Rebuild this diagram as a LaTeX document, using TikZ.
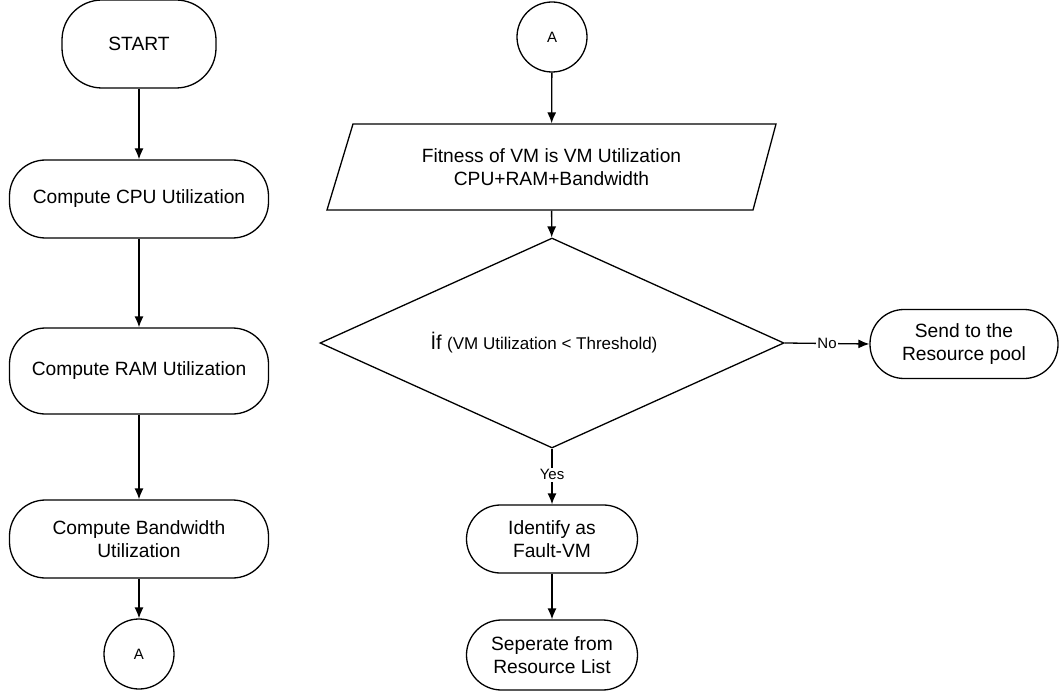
\documentclass[tikz,border=0pt]{standalone}
\usepackage{fontspec}
\setmainfont{Liberation Sans}
\usetikzlibrary{arrows.meta,shapes.geometric,calc}

\tikzset{
  base/.style={draw=black, line width=1.3pt, inner sep=0pt, align=center,
    font=\fontsize{19.2}{23.5}\selectfont},
  terminal/.style={base, rectangle, rounded corners=36pt},
  connector/.style={base, circle, minimum size=70pt, font=\fontsize{15}{18}\selectfont},
  decision/.style={base, diamond, aspect=2.2, minimum width=464pt, minimum height=210pt},
  flow/.style={line width=1.3pt, -{Latex[length=11pt,width=9pt]}},
  edgelabel/.style={fill=white, inner sep=1.5pt, font=\fontsize{15}{17}\selectfont}
}

\begin{document}
\begin{tikzpicture}[x=1pt,y=-1pt]
\useasboundingbox (0,0) rectangle (1060,695);

% left column: measurements
\node[terminal, minimum width=154pt, minimum height=88pt, rounded corners=40pt] (start) at (139,44) {START};
\node[terminal, minimum width=259pt, minimum height=78pt] (cpu) at (139,199) {Compute CPU Utilization};
\node[terminal, minimum width=259pt, minimum height=86pt] (ram) at (139,371) {Compute RAM Utilization};
\node[terminal, minimum width=259pt, minimum height=78pt] (bw) at (139,539) {Compute Bandwidth\\Utilization};
\node[connector] (aout) at (139,654) {A};

\draw[flow] (start) -- (cpu);
\draw[flow] (cpu) -- (ram);
\draw[flow] (ram) -- (bw);
\draw[flow] (bw) -- (aout);

% right column: evaluation
\node[connector] (ain) at (552,37) {A};

% parallelogram input block
\node[base, draw=none, minimum width=426pt, minimum height=86pt] (fit) at (551.5,167)
  {Fitness of VM is VM Utilization\\CPU+RAM+Bandwidth};
\draw[line width=1.3pt, line join=miter]
  ($(fit.center)+(-198.5,-43)$) -- ($(fit.center)+(224.5,-43)$)
  -- ($(fit.center)+(201.5,43)$) -- ($(fit.center)+(-224.5,43)$) -- cycle;

\node[decision] (dec) at (552,343)
  {\fontsize{20}{22}\selectfont İf \fontsize{17}{20}\selectfont(VM Utilization < Threshold)\hspace*{16pt}};

\node[terminal, minimum width=188pt, minimum height=69pt, rounded corners=34pt] (pool) at (964,344)
  {Send to the\\Resource pool};
\node[terminal, minimum width=171pt, minimum height=68pt, rounded corners=34pt] (fault) at (552,539)
  {Identify as\\Fault-VM};
\node[terminal, minimum width=171pt, minimum height=70pt, rounded corners=35pt] (sep) at (552,655)
  {Seperate from\\Resource List};

\draw[flow] (ain) -- (fit);
\draw[flow] (fit) -- (dec);
\draw[flow] (dec.east) -- node[edgelabel] {No} (pool.west);
\draw[flow] (dec.south) -- node[edgelabel, pos=0.47] {Yes} (fault.north);
\draw[flow] (fault) -- (sep);
\end{tikzpicture}
\end{document}
